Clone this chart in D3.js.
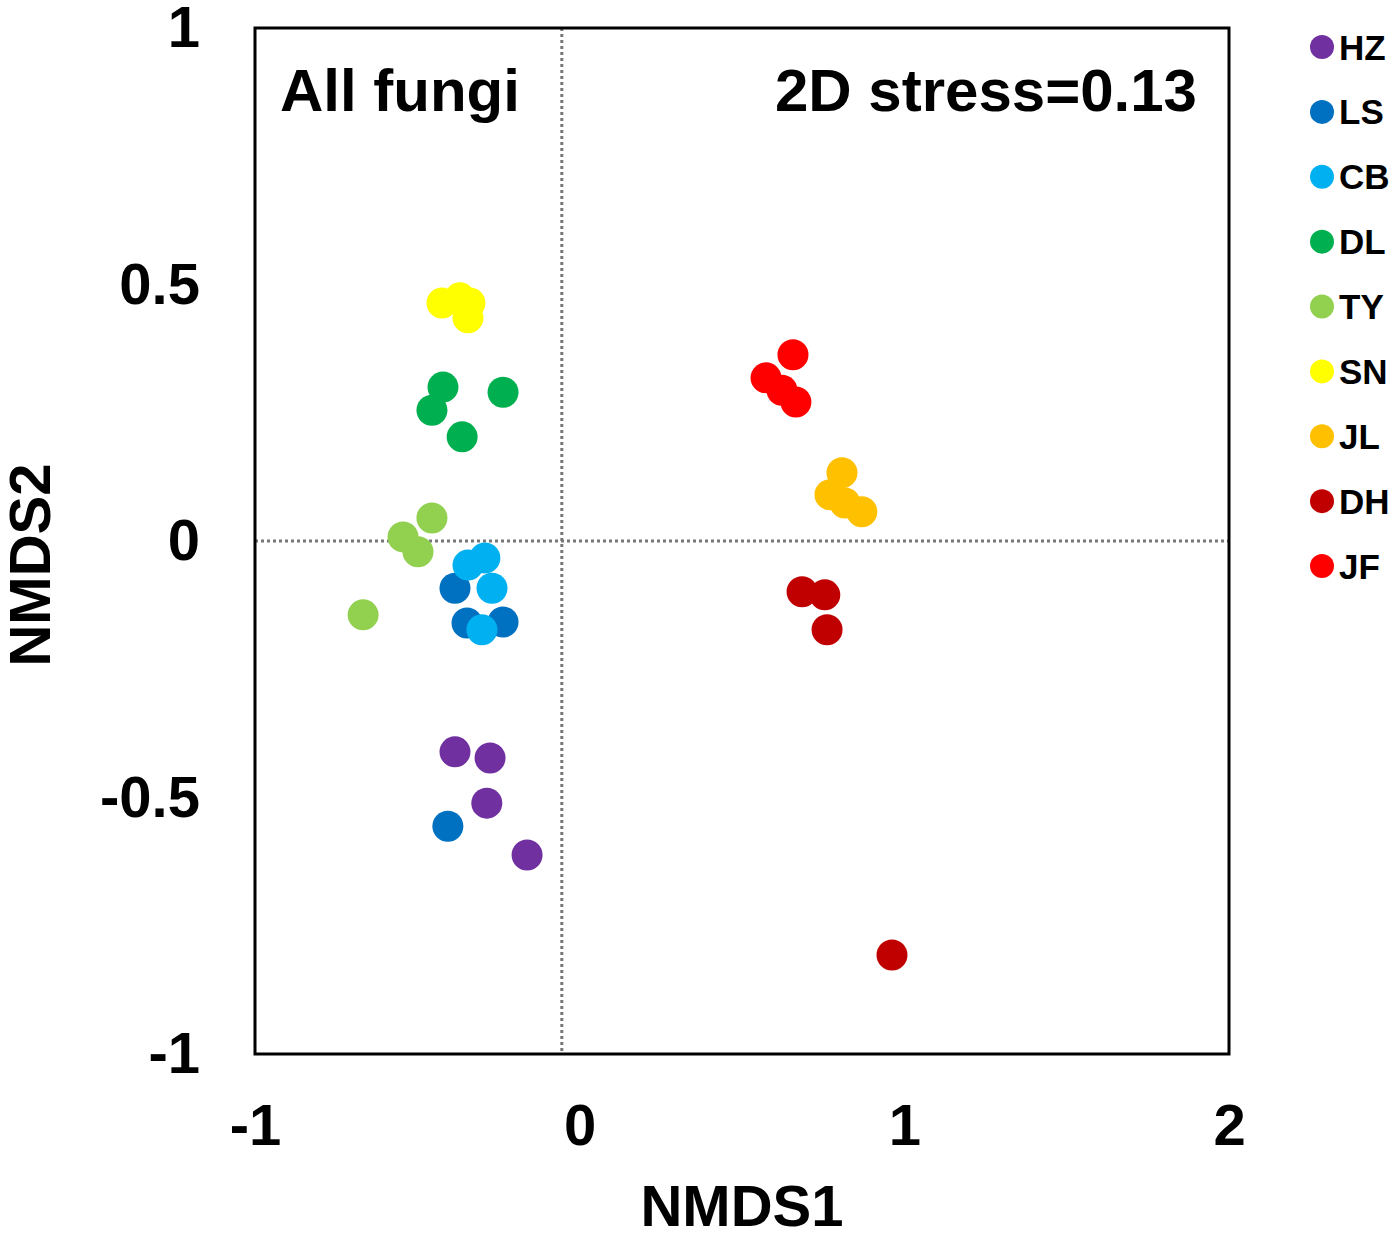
<!DOCTYPE html>
<html>
<head>
<meta charset="utf-8">
<script src="https://cdn.jsdelivr.net/npm/d3@7"></script>
<style>
  html, body { margin: 0; padding: 0; background: #fff; overflow: hidden; }
  svg { display: block; }
  text { font-family: 'Liberation Sans', Arial, sans-serif; font-weight: bold; fill: #000; }
</style>
</head>
<body>
<svg width="1400" height="1234"></svg>
<script>
// groups in legend order
const groups = ['HZ', 'LS', 'CB', 'DL', 'TY', 'SN', 'JL', 'DH', 'JF'];
const groupColors = ['#7030A0', '#0070C0', '#00B0F0', '#00B050', '#92D050', '#FFFF00', '#FFC000', '#C00000', '#FF0000'];

// NMDS scores: [group, NMDS1, NMDS2]
const samples = [
  ['HZ', -0.384, -0.411], ['HZ', -0.276, -0.423], ['HZ', -0.286, -0.511], ['HZ', -0.162, -0.612],
  ['LS', -0.384, -0.092], ['LS', -0.347, -0.160], ['LS', -0.236, -0.158], ['LS', -0.406, -0.556],
  ['CB', -0.292, -0.033], ['CB', -0.344, -0.047], ['CB', -0.270, -0.092], ['CB', -0.301, -0.173],
  ['DL', -0.421, 0.300], ['DL', -0.455, 0.255], ['DL', -0.236, 0.290], ['DL', -0.362, 0.203],
  ['TY', -0.455, 0.045], ['TY', -0.544, 0.008], ['TY', -0.498, -0.021], ['TY', -0.667, -0.144],
  ['SN', -0.424, 0.464], ['SN', -0.369, 0.474], ['SN', -0.338, 0.464], ['SN', -0.344, 0.435],
  ['JL', 0.808, 0.133], ['JL', 0.771, 0.090], ['JL', 0.817, 0.074], ['JL', 0.869, 0.057],
  ['DH', 0.685, -0.099], ['DH', 0.755, -0.105], ['DH', 0.762, -0.173], ['DH', 0.962, -0.807],
  ['JF', 0.657, 0.363], ['JF', 0.574, 0.318], ['JF', 0.623, 0.294], ['JF', 0.666, 0.271]
];

const xTicks = [-1, 0, 1, 2];
const yTicks = [-1, -0.5, 0, 0.5, 1];
const refX = -0.055; // vertical dotted line sits a bit left of 0
const refY = 0;

const svg = d3.select('svg');
const width = +svg.attr('width');
const height = +svg.attr('height');
const margin = { top: 28, right: 171, bottom: 180, left: 255 };
const innerWidth = width - margin.left - margin.right;
const innerHeight = height - margin.top - margin.bottom;

const xScale = d3.scaleLinear().domain([-1, 2]).range([0, innerWidth]);
const yScale = d3.scaleLinear().domain([-1, 1]).range([innerHeight, 0]);
const colorScale = d3.scaleOrdinal().domain(groups).range(groupColors);

const g = svg.append('g')
  .attr('transform', `translate(${margin.left},${margin.top})`);

// reference lines
g.append('line')
  .attr('x1', 0).attr('x2', innerWidth)
  .attr('y1', yScale(refY)).attr('y2', yScale(refY))
  .attr('stroke', '#777').attr('stroke-width', 3).attr('stroke-dasharray', '3,3');
g.append('line')
  .attr('x1', xScale(refX)).attr('x2', xScale(refX))
  .attr('y1', 0).attr('y2', innerHeight)
  .attr('stroke', '#777').attr('stroke-width', 3).attr('stroke-dasharray', '3,3');

// points
g.selectAll('.pt').data(samples)
  .enter().append('circle')
    .attr('class', 'pt')
    .attr('cx', d => xScale(d[1]))
    .attr('cy', d => yScale(d[2]))
    .attr('r', 15.5)
    .attr('fill', d => colorScale(d[0]));

// frame
g.append('rect')
  .attr('width', innerWidth).attr('height', innerHeight)
  .attr('fill', 'none').attr('stroke', '#000').attr('stroke-width', 3);

// axes (labels only), hyphen minus as in the original
const xAxisG = g.append('g')
  .attr('transform', `translate(0,${innerHeight})`)
  .call(d3.axisBottom(xScale).tickValues(xTicks).tickSize(0).tickPadding(50).tickFormat(d => String(d)));
xAxisG.select('.domain').remove();
xAxisG.selectAll('text').attr('font-size', 58).attr('fill', '#000')
  .style('font-family', "'Liberation Sans', Arial, sans-serif");

const yAxisG = g.append('g')
  .call(d3.axisLeft(yScale).tickValues(yTicks).tickSize(0).tickPadding(55).tickFormat(d => String(d)));
yAxisG.select('.domain').remove();
yAxisG.selectAll('text').attr('font-size', 58).attr('fill', '#000')
  .style('font-family', "'Liberation Sans', Arial, sans-serif");

// axis titles
g.append('text')
  .attr('x', innerWidth / 2).attr('y', innerHeight + 172)
  .attr('text-anchor', 'middle').attr('font-size', 58)
  .text('NMDS1');
g.append('text')
  .attr('transform', `translate(${-205},${innerHeight / 2 + 24}) rotate(-90)`)
  .attr('text-anchor', 'middle').attr('font-size', 58)
  .text('NMDS2');

// annotations
g.append('text')
  .attr('x', 25).attr('y', 83)
  .attr('font-size', 60)
  .text('All fungi');
g.append('text')
  .attr('x', innerWidth - 32).attr('y', 83)
  .attr('text-anchor', 'end').attr('font-size', 60)
  .text('2D stress=0.13');

// legend
const legendY = d3.scalePoint().domain(groups).range([47, 566]);
const legend = svg.append('g').attr('transform', 'translate(1322,0)');
const item = legend.selectAll('.item').data(groups)
  .enter().append('g')
    .attr('class', 'item')
    .attr('transform', d => `translate(0,${legendY(d)})`);
item.append('circle').attr('r', 12).attr('fill', d => colorScale(d));
item.append('text')
  .attr('x', 17).attr('dy', '0.36em')
  .attr('font-size', 35)
  .text(d => d);
</script>
</body>
</html>
